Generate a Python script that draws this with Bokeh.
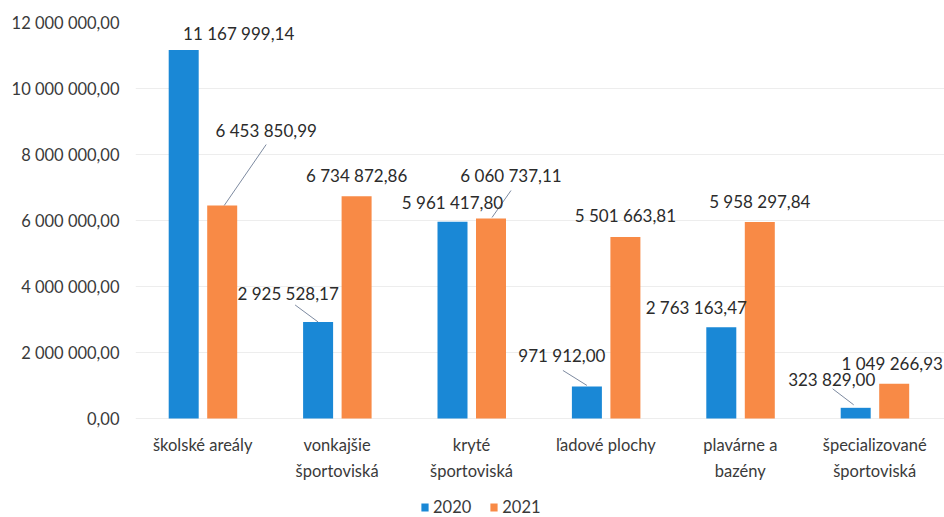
from bokeh.plotting import figure
from bokeh.models import (ColumnDataSource, Range1d, FixedTicker, Legend, LegendItem)
from bokeh.core.properties import value
from bokeh.embed import file_html
from bokeh.resources import INLINE

# ---------------- data ----------------
categories = ["školské areály", "vonkajšie\nšportoviská", "kryté\nšportoviská",
              "ľadové plochy", "plavárne a\nbazény", "špecializované\nšportoviská"]
series_names = ["2020", "2021"]
values_2020 = [11167999.14, 2925528.17, 5961417.80, 971912.00, 2763163.47, 323829.00]
values_2021 = [6453850.99, 6734872.86, 6060737.11, 5501663.81, 5958297.84, 1049266.93]
y_ticks = [0, 2000000, 4000000, 6000000, 8000000, 10000000, 12000000]

# ---------------- layout / style ----------------
W, H = 944, 517
BL, BR, BT = 135, 0, 22
PLOT_H = 396            # pixels from 0 to 12 000 000
FRAME_W = W - BL - BR
FRAME_H = H - BT        # frame extends to the bottom (room for category labels + legend)
CAT_PX = 134.4
X0 = -0.5
X1 = X0 + FRAME_W / CAT_PX
YMAX = 12000000
YPP = YMAX / PLOT_H
XPP = (X1 - X0) / FRAME_W
Y0 = -(FRAME_H - PLOT_H) * YPP

BAR_W = 30 / CAT_PX
OFFS = [-19 / CAT_PX, 19.5 / CAT_PX]
COLORS = ["#1a88d6", "#f88a46"]
FONT = "Lato"
TXT = "#2b2b2b"
AX = "#3a3a3a"

# label offsets in screen px (label centre relative to bar top centre)
label_dx = [[55, -30, 0, -25, -25, -24], [44, 0, 20, 0, 0, -2]]
label_dy = [[-16, -28, -19, -31, -20, -28], [-75, -21, -43, -21, -20, -20]]
# leader lines: (series, category, start dx, start dy, end dx, end dy) in px
leaders = [(1, 0, 44, -61, 2, 0), (0, 1, -23, -17, 0, 0), (1, 2, 20, -28, 1, -1),
           (0, 3, -24, -16, 0, -1), (0, 5, -23, -19, -2, -3)]


def fmt(v):
    return "{:,.2f}".format(v).replace(",", " ").replace(".", ",")


p = figure(width=W, height=H, output_backend="svg", toolbar_location=None,
           x_range=Range1d(X0, X1), y_range=Range1d(Y0, YMAX),
           x_axis_location=None,
           min_border_left=BL, min_border_right=BR, min_border_top=BT,
           min_border_bottom=0)
p.outline_line_color = None
p.background_fill_color = "white"
p.border_fill_color = "white"

all_vals = [values_2020, values_2021]
renderers = []
for s, vals in enumerate(all_vals):
    xs = [i + OFFS[s] for i in range(len(categories))]
    src = ColumnDataSource(dict(x=xs, top=vals))
    r = p.vbar(x="x", top="top", width=BAR_W, bottom=0, source=src,
               fill_color=COLORS[s], line_color=None)
    renderers.append(r)

# leader lines
lx0, ly0, lx1, ly1 = [], [], [], []
for s, c, sdx, sdy, edx, edy in leaders:
    bx = c + OFFS[s]
    by = all_vals[s][c]
    lx0.append(bx + sdx * XPP)
    ly0.append(by - sdy * YPP)
    lx1.append(bx + edx * XPP)
    ly1.append(by - edy * YPP)
p.segment(x0=lx0, y0=ly0, x1=lx1, y1=ly1, line_color="#7d8aa0", line_width=1)

# value labels
tx, ty, tt, tdx, tdy = [], [], [], [], []
for s, vals in enumerate(all_vals):
    for i, v in enumerate(vals):
        tx.append(i + OFFS[s])
        ty.append(v)
        tt.append(fmt(v))
        tdx.append(label_dx[s][i])
        tdy.append(label_dy[s][i])
p.text(x="x", y="y", text="t", x_offset="dx", y_offset="dy",
       source=ColumnDataSource(dict(x=tx, y=ty, t=tt, dx=tdx, dy=tdy)),
       text_font=value(FONT), text_font_size="17px", text_color=TXT,
       text_align="center", text_baseline="middle")

# category labels (drawn under the bars, at the category positions)
p.text(x=list(range(len(categories))), y=[0] * len(categories), text=categories,
       y_offset=16, text_font=value(FONT), text_font_size="16.5px",
       text_color=AX, text_align="center", text_baseline="top",
       text_line_height=1.34)

# y axis
p.yaxis.ticker = FixedTicker(ticks=y_ticks)
p.yaxis.major_label_overrides = {t: fmt(t) for t in y_ticks}
p.yaxis.axis_line_color = None
p.yaxis.major_tick_line_color = None
p.yaxis.minor_tick_line_color = None
p.yaxis.major_tick_out = 0
p.yaxis.major_tick_in = 0
p.yaxis.minor_tick_out = 0
p.yaxis.major_label_standoff = 16
p.yaxis.major_label_text_font = FONT
p.yaxis.major_label_text_font_size = "16.5px"
p.yaxis.major_label_text_color = AX

p.xgrid.grid_line_color = None
p.ygrid.grid_line_color = "#ededed"
p.ygrid.ticker = FixedTicker(ticks=y_ticks)

legend = Legend(items=[LegendItem(label=series_names[s], renderers=[renderers[s]])
                       for s in range(2)],
                orientation="horizontal", location=(285, 0),
                glyph_width=9, glyph_height=10, label_standoff=4, spacing=18,
                padding=0, margin=0, border_line_color=None,
                background_fill_alpha=0,
                label_text_font=FONT, label_text_font_size="16.5px",
                label_text_color=AX)
p.add_layout(legend, "center")

open("out.html", "w").write(file_html(p, INLINE))
